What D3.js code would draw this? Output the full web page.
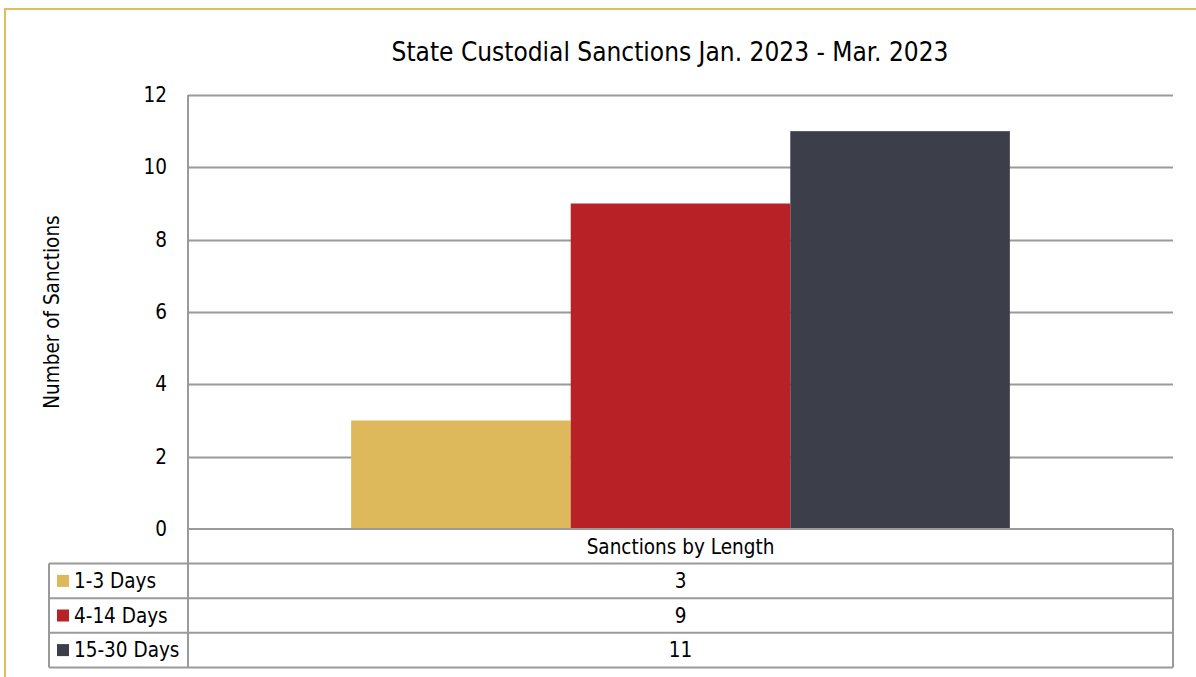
<!DOCTYPE html>
<html><head><meta charset="utf-8">
<script src="https://cdn.jsdelivr.net/npm/d3@7"></script>
<style>
html,body{margin:0;padding:0;background:#fff;}
text{font-family:"DejaVu Sans Condensed","DejaVu Sans",sans-serif;fill:#000;}
</style></head>
<body>
<svg id="chart" width="1196" height="677"></svg>
<script>
const title = "State Custodial Sanctions Jan. 2023 - Mar. 2023";
const yAxisTitle = "Number of Sanctions";
const category = "Sanctions by Length";
const seriesNames = ["1-3 Days", "4-14 Days", "15-30 Days"];
const seriesValues = [3, 9, 11];
const seriesColors = ["#DDB95B", "#B82125", "#3C3F4A"];
const yTicks = [0, 2, 4, 6, 8, 10, 12];

(function () {
const svg = d3.select("#chart");
const W = 1196, H = 677;
const pLeft = 188, pRight = 1173, pTop = 95, pBottom = 529;
const rowH = 34.6;
const labelLeft = 49;
const fs = "20.5px";

// outer frame
svg.append("rect").attr("x", 5).attr("y", 9).attr("width", W + 10).attr("height", H + 10)
  .attr("fill", "none").attr("stroke", "#E0BD5D").attr("stroke-width", 2);

const y = d3.scaleLinear().domain([0, 12]).range([pBottom, pTop]);
const xCat = d3.scaleBand().domain([category]).range([pLeft, pRight]);
const xSeries = d3.scaleBand().domain(seriesNames)
  .range([0, xCat.bandwidth()]).paddingOuter(0.743).paddingInner(0);

// gridlines
svg.append("g").selectAll("line").data(yTicks.filter(d => d > 0)).join("line")
  .attr("x1", pLeft).attr("x2", pRight)
  .attr("y1", d => Math.round(y(d)) + 0.5).attr("y2", d => Math.round(y(d)) + 0.5)
  .attr("stroke", "#9A9A9A").attr("stroke-width", 2);

// y axis
const yAxis = d3.axisLeft(y).tickValues(yTicks).tickSize(0).tickPadding(21).tickFormat(d3.format("d"));
const gy = svg.append("g").attr("transform", `translate(${pLeft},0)`).call(yAxis);
gy.select(".domain").remove();
gy.selectAll("text").style("font-size", fs).style("font-family", null);

// bars
svg.append("g").selectAll("rect").data(seriesNames).join("rect")
  .attr("x", (d) => xCat(category) + xSeries(d))
  .attr("width", xSeries.bandwidth())
  .attr("y", (d, i) => y(seriesValues[i]))
  .attr("height", (d, i) => y(0) - y(seriesValues[i]))
  .attr("fill", (d, i) => seriesColors[i]);

// axis line
svg.append("line").attr("x1", pLeft).attr("x2", pLeft).attr("y1", pTop).attr("y2", pBottom + rowH * 4)
  .attr("stroke", "#9A9A9A").attr("stroke-width", 2);

// data table
const tableG = svg.append("g");
const rowYs = d3.range(5).map(i => pBottom + i * rowH);
tableG.selectAll("line.h").data(rowYs).join("line").attr("class", "h")
  .attr("x1", (d, i) => i === 0 ? pLeft : labelLeft).attr("x2", pRight)
  .attr("y1", d => d).attr("y2", d => d)
  .attr("stroke", "#9A9A9A").attr("stroke-width", 2);
tableG.append("line").attr("x1", labelLeft).attr("x2", labelLeft)
  .attr("y1", pBottom + rowH).attr("y2", pBottom + rowH * 4).attr("stroke", "#9A9A9A").attr("stroke-width", 2);
tableG.append("line").attr("x1", pRight).attr("x2", pRight)
  .attr("y1", pBottom).attr("y2", pBottom + rowH * 4).attr("stroke", "#9A9A9A").attr("stroke-width", 2);

tableG.append("text").attr("x", (pLeft + pRight) / 2).attr("y", pBottom + rowH / 2).attr("dy", "0.36em")
  .attr("text-anchor", "middle").style("font-size", fs).text(category);

seriesNames.forEach((name, i) => {
  const cy = pBottom + rowH * (i + 1) + rowH / 2;
  tableG.append("rect").attr("x", 57).attr("y", cy - 6).attr("width", 12).attr("height", 12).attr("fill", seriesColors[i]);
  tableG.append("text").attr("x", 74).attr("y", cy).attr("dy", "0.36em").style("font-size", fs).text(name);
  tableG.append("text").attr("x", (pLeft + pRight) / 2).attr("y", cy).attr("dy", "0.36em").attr("text-anchor", "middle")
    .style("font-size", fs).text(seriesValues[i]);
});

svg.append("text").attr("x", 670).attr("y", 52).attr("dy", "0.36em").attr("text-anchor", "middle")
  .style("font-size", "26px").text(title);

svg.append("text").attr("transform", `translate(52,312) rotate(-90)`).attr("dy", "0.36em").attr("text-anchor", "middle")
  .style("font-size", fs).text(yAxisTitle);
})();
</script>
</body></html>
